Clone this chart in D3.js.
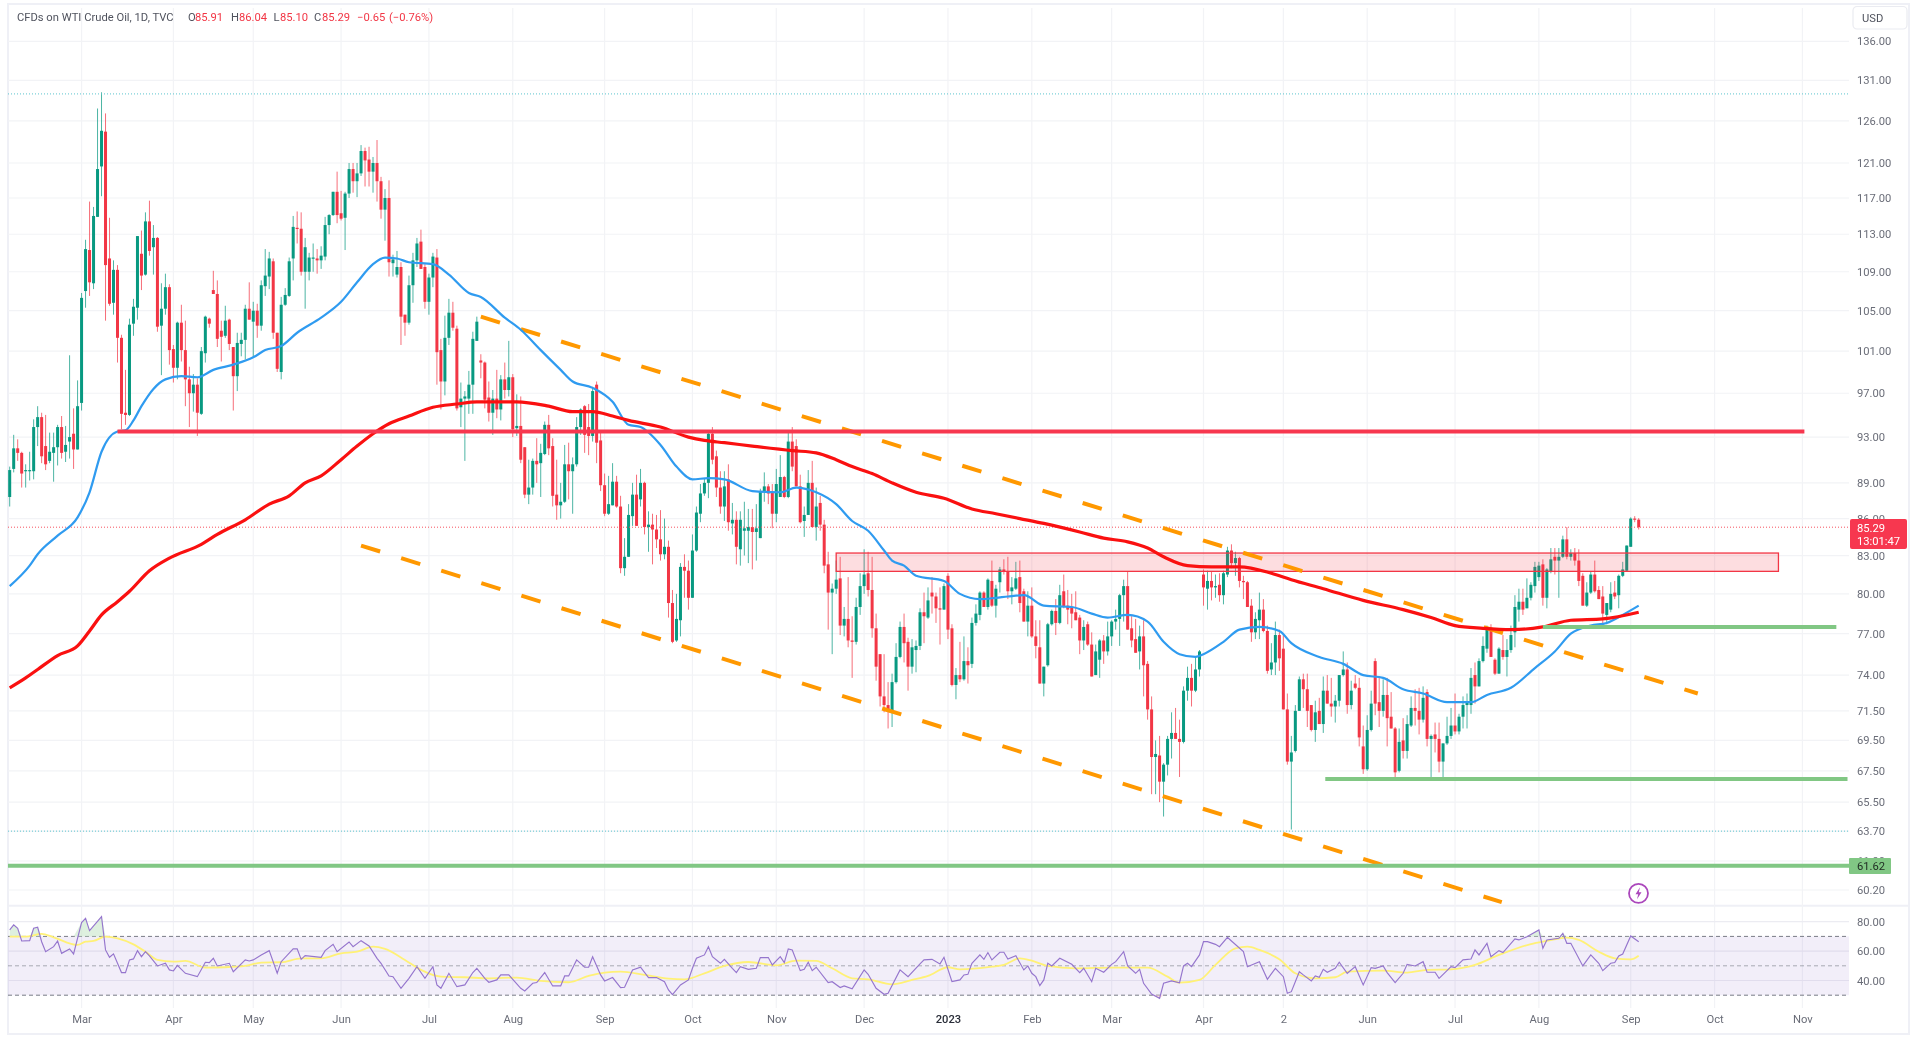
<!DOCTYPE html>
<html><head><meta charset="utf-8">
<script src="https://cdn.jsdelivr.net/npm/d3@7"></script>
<style>html,body{margin:0;background:#fff}svg{display:block;filter:blur(.3px)}text{font-family:Roboto,sans-serif}</style>
</head><body><svg id="c" width="1920" height="1040"></svg>
<script>
// daily bars: [open, high, low, close]
const candles = [
[87.8,90.4,87.0,90.1],[90.2,93.2,89.9,92.0],[92.0,92.8,90.9,91.6],[91.6,91.7,88.6,89.8],[90.0,90.6,88.6,90.1],[90.0,91.7,89.2,90.1],[90.0,94.6,89.3,93.9],[93.9,95.8,92.2,94.8],[94.8,95.2,90.7,91.3],[92.2,95.0,90.1,90.6],
[90.9,93.4,90.7,91.7],[91.6,93.4,89.1,92.1],[92.1,94.1,90.5,93.9],[93.9,94.9,91.1,91.6],[91.7,94.0,90.8,92.3],[92.6,100.6,91.1,93.0],[93.3,95.6,90.2,91.9],[91.9,98.2,91.9,95.8],[96.1,106.8,95.4,106.3],[107.0,112.4,105.3,111.4],
[111.3,116.6,106.5,107.9],[107.8,116.0,107.2,115.0],[114.9,127.5,114.9,120.3],[120.6,129.5,117.2,124.8],[124.7,126.9,104.0,109.7],[110.4,114.8,105.5,105.7],[105.8,110.2,104.6,109.2],[109.2,109.7,99.9,102.3],[102.3,102.6,93.7,95.1],[95.2,99.2,94.1,95.0],
[95.0,104.2,94.9,103.6],[103.7,106.2,102.5,105.4],[105.3,112.8,104.1,112.8],[110.9,113.4,107.1,108.6],[108.7,115.4,108.6,114.4],[114.4,116.7,110.7,111.2],[111.6,114.0,108.7,112.6],[112.6,112.7,102.9,103.4],[103.5,107.8,98.7,105.2],[105.2,108.8,104.6,107.4],
[107.4,107.7,99.7,101.1],[101.2,101.6,98.0,99.4],[99.4,103.9,98.3,103.8],[103.8,105.6,100.0,101.1],[101.1,104.0,95.8,98.3],[98.3,99.5,93.9,97.0],[97.0,98.8,95.3,97.8],[97.8,98.4,93.1,95.2],[95.1,101.4,95.0,101.0],[100.8,104.5,99.9,104.4],
[104.2,104.3,103.3,103.7],[107.1,109.1,106.7,106.7],[106.7,108.1,101.4,102.2],[103.0,104.0,100.0,102.4],[102.5,105.5,102.3,104.0],[104.1,104.2,101.1,101.7],[101.4,101.4,95.4,98.6],[98.6,102.8,97.2,101.8],[101.7,102.8,100.5,102.1],[102.1,105.6,100.2,105.2],
[105.2,107.9,104.1,104.1],[103.9,105.9,100.4,105.0],[105.0,105.7,102.3,103.5],[103.5,108.1,103.0,107.6],[107.5,111.4,106.5,108.6],[108.5,111.1,107.2,110.4],[110.1,110.4,102.2,102.8],[102.8,102.8,99.0,99.3],[99.0,106.4,98.3,105.6],[105.6,107.3,105.5,106.6],
[106.5,110.5,106.4,110.1],[110.4,115.0,108.1,113.8],[113.7,115.5,112.0,113.6],[113.6,115.4,108.6,109.0],[109.0,112.6,105.2,111.6],[109.0,111.0,108.1,110.5],[110.4,112.0,109.0,110.5],[110.4,111.4,108.8,110.2],[110.2,111.7,109.3,110.7],[110.6,114.9,110.2,114.0],
[114.0,115.2,113.0,115.1],[115.1,117.7,115.0,117.7],[117.7,120.0,114.2,115.1],[115.3,117.8,114.5,114.7],[114.8,117.7,111.3,117.5],[117.5,121.0,117.0,120.3],[120.3,121.0,117.6,118.9],[118.9,121.0,117.1,119.8],[119.8,123.1,119.5,122.4],[122.4,122.8,118.3,121.3],
[121.4,122.9,118.3,120.0],[120.0,121.7,117.6,121.0],[121.0,123.7,116.6,118.9],[118.9,119.4,114.7,115.7],[115.7,118.0,112.3,117.0],[117.0,119.0,108.5,110.0],[109.9,110.8,108.5,110.3],[108.7,111.2,108.4,109.5],[109.5,110.0,101.6,104.4],[104.6,104.6,102.5,103.8],
[103.8,108.6,103.6,107.6],[107.6,111.0,105.8,110.2],[110.2,112.6,109.5,112.0],[112.2,113.5,109.3,109.3],[109.5,109.8,105.2,105.9],[105.9,108.8,104.6,108.4],[108.4,111.0,107.4,110.6],[110.5,111.4,97.8,100.9],[101.1,102.2,95.5,98.1],[98.1,104.5,96.8,102.3],
[102.3,106.2,101.6,104.8],[104.8,105.9,103.0,103.3],[103.2,103.5,95.4,95.6],[95.7,98.0,93.9,96.5],[96.5,97.2,90.9,96.7],[96.5,99.1,95.1,97.8],[97.8,102.9,95.1,102.2],[102.0,104.4,102.0,103.9],[100.1,100.7,98.4,99.9],[99.9,100.0,95.6,96.4],
[96.6,98.1,94.4,95.2],[95.2,97.3,93.2,96.5],[96.5,99.2,94.7,95.5],[95.5,98.7,94.5,98.3],[98.3,99.9,96.5,97.3],[97.3,102.0,96.7,98.5],[98.5,98.8,93.0,93.7],[93.8,96.9,93.1,94.0],[94.0,96.7,90.7,91.0],[92.1,92.1,87.7,88.0],
[88.0,91.0,87.2,88.6],[88.6,91.1,88.0,90.9],[90.9,92.9,89.0,90.6],[90.7,92.4,87.8,91.6],[91.5,94.4,91.4,94.1],[94.1,95.0,91.4,92.0],[92.2,92.9,87.0,87.9],[88.0,91.0,85.9,87.1],[87.1,89.0,86.0,87.4],[87.4,92.3,87.3,90.6],
[90.6,92.5,87.6,90.0],[90.0,91.2,86.4,90.6],[90.6,94.8,90.4,93.9],[93.9,95.6,93.2,95.5],[95.8,95.9,91.6,93.2],[93.9,96.0,91.4,93.1],[93.1,97.6,92.6,97.2],[97.8,98.1,90.7,92.5],[92.7,93.5,88.3,88.8],[88.8,89.8,86.2,86.4],
[86.4,89.6,86.3,87.2],[87.1,90.7,87.1,89.1],[89.1,89.6,86.9,87.0],[87.0,87.9,81.6,82.0],[82.0,84.4,81.4,82.9],[82.9,87.2,82.9,86.3],[86.2,89.0,85.4,88.0],[88.0,89.7,85.4,85.4],[87.6,90.2,87.0,89.0],[89.0,89.1,84.7,85.3],
[85.3,86.6,83.3,85.5],[85.5,86.4,82.3,85.1],[85.1,86.3,83.6,84.3],[84.3,86.7,82.6,83.1],[83.1,86.0,82.7,83.7],[83.7,84.2,78.2,79.3],[79.3,80.3,76.3,76.4],[76.5,80.0,76.4,78.1],[78.0,82.4,76.8,82.1],[82.1,83.1,79.7,81.8],
[81.8,82.6,78.8,79.7],[79.7,84.7,79.7,83.4],[83.4,87.0,83.3,86.5],[86.4,88.9,85.7,88.1],[88.1,89.4,87.9,89.0],[89.0,93.4,87.7,93.3],[93.3,93.9,90.6,91.0],[91.3,91.8,87.8,88.6],[88.6,90.0,86.4,87.0],[87.0,90.0,85.8,88.7],
[89.3,90.6,85.0,85.7],[85.6,87.3,84.7,85.9],[85.9,86.6,82.3,83.7],[83.5,86.6,82.2,85.9],[85.0,87.4,83.0,85.2],[85.0,86.8,82.4,85.3],[85.3,86.8,81.9,84.9],[84.9,87.2,82.6,85.2],[84.4,88.5,84.4,88.3],[88.3,89.9,87.4,88.7],
[88.7,88.9,87.2,88.1],[88.2,88.9,85.2,86.4],[86.4,90.2,85.7,88.9],[87.8,91.4,87.8,89.5],[89.5,89.6,87.7,87.8],[87.8,93.4,87.7,92.6],[92.6,93.9,90.0,90.4],[92.2,92.8,88.7,88.7],[88.7,89.7,85.6,85.7],[85.8,87.0,84.5,86.3],
[86.3,90.1,86.3,89.0],[89.0,90.9,85.3,85.3],[85.3,88.6,84.2,87.0],[87.3,87.9,85.0,85.5],[85.5,85.9,81.6,82.2],[82.3,83.3,77.3,80.1],[80.1,80.8,75.5,80.4],[80.4,82.6,80.0,81.1],[81.2,82.9,76.9,77.6],[77.6,79.0,76.8,78.1],
[78.1,81.3,76.0,76.5],[76.5,78.3,73.8,76.4],[76.4,79.7,76.2,79.0],[79.0,81.6,78.4,80.6],[80.6,83.5,80.0,81.5],[81.6,83.3,79.8,80.3],[80.3,82.9,76.7,77.4],[77.4,78.5,73.6,74.6],[75.5,75.5,71.8,72.5],[72.5,75.5,71.4,71.9],
[71.9,73.5,70.3,71.5],[71.4,74.1,70.4,73.5],[73.5,76.3,73.4,75.3],[75.3,77.9,75.2,77.5],[77.5,78.5,74.9,76.3],[76.4,76.7,72.9,74.6],[74.6,76.6,74.1,76.0],[75.8,76.5,74.2,76.1],[76.1,78.9,75.8,78.6],[78.6,80.1,76.3,78.3],
[78.2,80.5,78.1,79.5],[80.1,81.3,78.5,79.8],[79.8,80.1,77.8,78.9],[78.9,80.5,76.2,78.8],[78.8,80.8,78.8,80.6],[81.4,81.6,76.6,77.3],[77.4,77.7,73.2,73.3],[73.3,74.5,72.3,74.0],[74.0,76.4,73.5,73.7],[73.7,76.8,73.6,75.0],
[75.0,76.0,73.4,74.7],[74.8,78.2,74.5,77.8],[77.8,79.2,77.6,78.5],[78.4,80.2,78.0,80.1],[80.1,80.2,79.0,79.0],[79.0,81.2,78.8,81.1],[81.0,82.6,79.0,79.1],[79.1,80.7,78.2,80.4],[80.9,82.1,80.1,81.9],[81.9,82.7,81.5,81.7],
[81.7,82.9,79.6,80.2],[80.2,81.3,79.2,80.5],[80.4,82.5,80.3,81.2],[81.3,82.6,78.6,79.3],[80.2,80.4,77.9,77.9],[77.9,80.2,76.8,79.1],[79.1,80.5,76.7,76.8],[76.8,78.0,75.2,76.1],[76.0,78.0,73.4,73.4],[73.4,74.6,72.5,74.6],
[74.7,77.8,74.6,77.7],[77.7,78.8,77.6,78.7],[78.7,79.6,76.9,77.8],[77.8,80.7,77.7,79.9],[80.2,81.5,78.9,79.0],[79.1,80.3,77.7,78.8],[79.0,80.0,77.4,78.5],[78.6,80.2,78.0,78.0],[78.2,78.4,75.5,76.5],[76.5,78.0,75.8,77.5],
[77.7,77.9,76.1,76.2],[76.2,77.1,73.9,73.9],[74.0,76.2,74.0,75.7],[75.1,76.6,73.8,76.5],[76.5,76.9,74.8,75.7],[75.7,77.9,75.4,76.8],[76.8,78.0,76.1,77.9],[77.9,78.8,77.3,78.1],[78.1,80.0,76.1,79.9],[79.9,81.1,77.9,80.6],
[80.6,81.7,77.3,77.3],[77.4,78.3,76.0,76.5],[76.6,78.1,75.6,75.6],[75.7,77.6,74.4,76.8],[76.8,78.0,72.5,74.7],[74.8,75.0,70.9,71.6],[71.6,72.5,66.0,68.4],[68.4,69.5,66.0,68.6],[68.5,69.8,65.5,66.8],[66.8,68.0,64.6,67.9],
[67.9,69.8,67.2,69.6],[69.6,71.4,68.3,70.0],[70.0,71.7,69.6,69.6],[69.6,70.9,67.1,69.4],[69.4,73.2,69.3,72.9],[72.9,74.6,72.2,73.8],[73.8,74.8,71.8,72.9],[72.9,75.3,72.8,74.4],[74.4,75.8,73.9,75.7],[81.5,81.9,79.1,80.5],
[80.4,81.8,78.8,81.0],[81.0,81.7,79.5,80.5],[80.5,81.5,79.7,80.6],[80.7,81.6,79.4,79.9],[79.9,81.8,79.2,81.6],[81.5,83.7,81.3,83.4],[83.4,83.9,82.0,82.4],[82.4,83.3,81.4,82.8],[82.8,82.9,80.5,81.0],[81.0,81.4,79.6,80.9],
[80.9,81.0,79.0,79.0],[79.1,79.6,76.4,77.1],[77.1,78.6,76.6,78.1],[78.0,80.1,76.6,78.8],[78.8,79.6,77.1,77.2],[77.2,77.6,74.1,74.3],[74.4,76.3,74.0,74.9],[74.9,77.9,74.0,76.9],[76.9,77.3,74.3,75.2],[75.9,76.9,71.6,71.6],
[71.6,72.7,67.9,68.1],[68.1,69.8,63.8,68.7],[68.8,71.9,68.7,71.5],[71.5,73.9,71.5,73.7],[73.7,74.1,71.7,73.0],[73.0,74.1,70.4,71.5],[71.9,71.9,70.1,70.2],[70.2,72.2,69.4,71.4],[71.5,72.4,70.6,70.6],[70.6,73.9,70.0,72.9],
[72.9,74.0,72.0,72.0],[72.0,73.8,71.1,71.8],[71.8,72.6,70.7,72.2],[72.2,74.0,71.8,74.0],[74.0,75.7,73.9,74.4],[74.4,74.9,71.3,71.9],[71.9,73.6,71.6,72.9],[73.4,74.0,73.0,73.1],[73.1,73.8,69.1,69.7],[69.1,70.5,67.3,67.6],
[67.6,71.2,67.5,70.2],[70.2,72.9,70.1,72.0],[75.0,75.2,71.2,72.0],[72.1,73.8,70.4,71.5],[71.5,73.7,71.1,72.6],[72.6,73.8,69.1,71.0],[71.1,72.8,70.3,70.3],[70.3,70.4,66.9,67.4],[67.5,70.3,67.4,69.4],[69.5,71.0,68.3,68.8],
[68.8,71.2,68.3,70.6],[70.5,72.5,70.4,71.7],[71.7,73.0,70.5,71.5],[71.5,73.1,69.9,70.9],[70.9,73.2,70.7,72.4],[72.8,73.0,69.1,69.6],[69.6,69.9,67.1,69.8],[69.9,70.7,68.7,69.6],[69.6,70.7,67.4,68.1],[68.1,69.3,67.0,69.3],
[69.3,71.1,69.2,69.8],[69.8,71.7,69.6,70.5],[70.5,72.7,69.9,70.1],[70.1,71.3,69.9,71.1],[71.1,72.5,70.3,71.9],[71.9,72.7,70.3,72.1],[71.9,74.5,71.3,73.8],[74.0,74.9,72.0,73.2],[73.2,75.2,73.2,75.0],[75.0,76.8,74.9,76.1],
[75.9,77.6,75.6,77.4],[77.3,77.7,75.3,75.3],[75.1,75.2,74.0,74.1],[74.1,76.0,74.1,75.9],[75.8,76.9,75.1,75.3],[75.3,76.6,73.9,75.8],[75.8,77.6,75.6,76.9],[77.1,79.9,76.0,79.0],[78.8,80.4,77.9,79.4],[79.4,80.4,78.4,78.8],
[78.9,81.2,78.9,79.7],[79.7,80.9,79.5,80.7],[80.6,82.5,80.1,82.1],[81.3,82.5,81.0,82.2],[82.3,82.7,79.1,79.7],[79.7,82.0,78.9,81.9],[81.7,83.6,81.6,82.7],[82.9,83.6,81.5,82.6],[82.6,83.6,79.7,82.9],[82.9,84.6,82.8,84.3],
[84.3,85.3,82.7,82.9],[82.9,83.5,82.6,83.2],[83.2,83.6,82.2,82.6],[82.6,83.5,80.6,81.0],[81.4,81.6,79.1,79.1],[79.1,80.9,79.0,80.1],[80.1,81.7,80.0,81.5],[81.5,82.6,80.1,80.2],[80.3,80.6,79.6,79.6],[79.8,80.6,77.7,78.5],
[78.4,79.3,77.7,79.3],[78.8,80.9,78.6,80.0],[80.1,81.0,79.6,79.8],[79.9,81.5,78.9,81.4],[81.4,82.5,81.3,81.9],[81.8,83.8,81.7,83.8],[83.7,86.1,83.7,86.0],[86.0,86.2,85.7,85.9],[85.91,86.04,85.10,85.29]
];
// moving averages read at bar indexes
const ma50Index = [0,5,7,12,17,20,23,27,29,31,33,36,39,43,47,51,56,61,64,68,72,78,83,87,91,94,97,100,106,110,115,118,124,128,133,138,141,146,151,155,158,163,167,171,175,179,186,193,197,202,207,211,215,219,221,224,227,234,238,243,247,250,254,259,266,271,275,280,285,289,293,297,299,304,308,313,318,321,328,334,339,344,349,354,360,366,370,376,382,387,391,396,400,404,408];
const ma50Value = [80.6,82.2,83.1,84.6,86.1,88.2,91.7,93.5,93.6,94.5,95.8,97.4,98.3,98.6,98.5,99.2,99.7,100.4,101.1,101.5,102.8,104.3,105.9,107.9,109.8,110.5,110.4,110.0,109.8,108.7,106.8,106.4,104.3,103.1,101.1,99.2,98.1,97.5,96.2,94.1,93.9,92.3,90.4,89.3,89.4,89.3,88.3,88.2,88.6,88.2,87.2,85.8,85.0,83.4,82.6,82.2,81.4,81.0,80.0,79.6,79.7,79.8,79.9,79.1,79.0,78.5,78.2,78.4,77.9,76.4,75.5,75.3,75.5,76.4,77.3,77.5,77.2,76.3,75.3,74.8,74.0,73.8,73.0,72.7,72.1,72.1,72.6,73.1,74.5,75.7,77.0,77.6,77.8,78.4,79.1];
const ma200Index = [0,4,7,12,17,20,23,27,30,35,40,48,52,59,65,70,74,78,83,87,91,95,100,106,112,117,127,135,141,146,151,155,163,170,174,179,186,196,202,207,211,216,221,227,234,241,247,253,259,268,274,280,285,289,295,301,308,316,321,329,339,349,356,362,369,376,384,391,399,408];
const ma200Value = [73.1,73.8,74.4,75.4,76.1,77.2,78.4,79.4,80.2,81.8,82.8,83.9,84.7,85.9,87.2,87.9,89.0,89.6,91.0,92.2,93.3,94.2,94.9,95.7,96.0,96.2,96.2,95.8,95.3,95.3,94.9,94.5,93.9,93.0,92.7,92.5,92.2,91.8,91.6,91.0,90.4,89.8,89.0,88.2,87.7,86.8,86.4,86.0,85.6,84.9,84.4,84.1,83.6,82.9,82.2,82.1,82.1,81.6,81.1,80.4,79.5,78.8,78.2,77.6,77.4,77.3,77.5,78.0,78.1,78.6];
// RSI and its moving average
const rsiIndex = [0,1,2,3,5,6,7,8,9,11,12,13,15,16,18,19,20,23,24,25,26,28,29,30,31,32,33,34,35,37,39,40,41,42,44,47,49,50,51,52,55,56,59,60,61,63,65,67,68,71,72,73,74,78,79,81,82,85,86,88,90,92,93,95,96,98,100,102,104,106,107,108,110,112,114,116,117,119,120,122,123,125,126,128,129,131,132,134,136,138,139,140,142,144,145,146,148,149,151,153,154,156,158,160,162,164,165,166,168,170,171,172,174,175,176,178,179,181,182,183,185,187,188,190,191,193,194,195,196,198,199,200,201,202,205,206,208,209,211,214,215,217,219,220,223,225,228,229,231,233,234,236,238,239,240,241,243,244,245,246,248,249,250,252,254,255,256,257,258,259,260,261,263,266,268,269,271,272,274,276,277,279,280,282,283,284,286,288,289,291,293,294,295,296,298,299,300,302,303,305,306,309,310,313,315,317,319,320,321,323,324,326,327,328,329,330,332,333,335,337,339,341,342,344,345,347,349,350,352,354,355,357,358,361,362,364,366,367,368,370,371,373,374,377,378,380,383,384,385,388,389,390,391,394,396,398,399,401,402,403,404,406,408];
const rsiValue = [74.4,77.8,75.5,66.9,67.1,75.5,76.2,66.4,59.6,63.0,66.9,58.5,61.5,58.1,79.4,82.3,73.9,83.5,60.8,55.8,58.1,45.4,45.4,54.0,54.7,60.3,56.2,59.6,56.7,49.9,51.7,47.2,46.5,50.3,44.9,42.6,52.4,52.2,55.1,49.9,51.7,46.0,54.0,53.3,54.0,57.4,60.3,44.9,52.8,61.5,61.5,54.4,56.9,55.8,60.3,64.6,59.6,66.2,63.0,67.1,63.5,55.1,51.7,43.1,42.6,34.7,41.5,49.4,41.5,49.4,37.0,34.7,44.9,35.8,37.0,45.4,48.3,41.5,38.8,40.4,43.8,43.8,40.8,34.7,32.9,38.1,38.6,45.4,36.3,36.3,43.1,43.1,54.0,49.0,49.0,56.2,43.8,39.7,42.0,35.2,35.4,47.2,49.0,42.0,42.0,39.2,33.6,30.4,37.0,40.4,48.3,55.1,57.4,63.0,56.2,51.7,54.4,48.3,45.4,49.4,47.6,48.3,55.6,55.6,50.6,56.2,52.2,61.5,60.8,46.7,47.6,52.4,46.7,49.0,38.6,39.2,35.2,36.3,34.3,47.2,44.2,34.7,30.6,31.3,47.2,42.6,51.3,54.0,54.4,51.3,55.8,39.2,40.4,43.8,44.2,51.7,57.4,54.4,59.0,54.0,59.2,59.2,54.6,56.9,47.2,49.9,44.9,42.6,36.5,40.4,51.7,49.9,55.1,51.0,45.4,48.3,39.2,48.3,45.6,51.0,52.8,59.6,49.9,44.9,47.6,38.1,30.8,27.9,38.1,39.7,38.5,49.9,51.7,49.4,57.4,66.4,66.4,64.6,63.0,69.4,66.9,59.6,49.4,52.8,40.8,48.3,42.6,31.3,32.4,46.0,43.8,39.7,43.1,42.2,47.6,45.6,48.3,52.4,44.9,49.4,37.0,48.8,48.3,49.9,45.4,38.5,44.9,51.0,49.9,52.8,45.6,45.6,41.5,49.4,48.8,54.0,54.6,60.8,57.4,65.3,56.2,60.3,59.0,68.3,67.6,69.8,74.4,61.9,67.6,68.7,72.1,65.3,65.3,49.9,57.4,51.7,46.7,51.7,52.2,56.7,58.0,70.3,66.4];
const rsiMaIndex = [0,4,8,11,17,19,21,24,27,31,34,37,41,44,49,54,59,63,68,73,78,83,87,91,94,99,103,108,114,120,127,133,140,145,149,153,159,165,169,174,179,185,192,197,202,206,211,215,221,226,230,235,238,246,249,253,256,260,267,276,285,290,293,298,302,307,310,313,318,322,327,332,335,344,350,355,361,367,373,381,385,390,393,398,402,406,408];
const rsiMaValue = [69.8,69.8,71.7,69.4,64.2,66.4,66.9,69.8,68.7,64.6,59.6,54.0,52.8,53.3,48.8,49.0,49.9,52.2,52.4,55.1,55.1,58.5,59.6,63.0,61.5,54.0,47.2,42.6,42.2,41.5,42.0,39.7,38.8,43.1,45.4,46.0,43.8,41.3,40.8,44.9,49.9,52.6,50.3,53.5,53.3,48.3,41.5,40.8,37.4,40.4,43.1,49.0,47.6,49.4,50.6,55.1,53.5,49.9,48.3,48.8,48.8,42.6,38.5,40.4,50.6,61.9,63.0,60.8,54.4,44.9,41.5,42.2,46.0,46.7,45.4,47.2,47.6,50.6,57.4,64.8,66.9,69.2,67.6,59.6,55.1,54.4,56.9];
// axes
const priceTicks = [136,131,126,121,117,113,109,105,101,97,93,89,86,83,80,77,74,71.5,69.5,67.5,65.5,63.7,61.9,60.2];
const rsiTicks = [80,60,40];
const rsiBands = [70,50,30];
const monthIndex = [18,41,61,83,105,126,149,171,192,214,235,256,276,299,319,340,362,383,406,427,449];
const monthLabels = ["Mar","Apr","May","Jun","Jul","Aug","Sep","Oct","Nov","Dec","2023","Feb","Mar","Apr","2","Jun","Jul","Aug","Sep","Oct","Nov"];
// drawings
const redLevel = {price:93.5, from:27, to:449.5};
const greenLevels = [{price:77.5,from:384,to:457.5},{price:66.97,from:329.5,to:460.3},{price:61.62,from:-1,to:461}];
const upperChannel = [[118,104.4],[422.8,72.7]];
const lowerChannel = [[88,83.8],[373.7,59.5]];
const zoneBox = {from:207,to:443,top:83.2,bottom:81.75};
const highMark = 129.3, lowMark = 63.7, lastPrice = 85.29;

const X0=8, X1=1849, PT=8, PB=905, RT=908, RB=1008;
const svg = d3.select("#c");
const x = d3.scaleLinear().domain([0,408]).range([9.7,1638.7]);
const y = d3.scaleLog().domain([60.2,136]).range([890,41.3]);
const ry = d3.scaleLinear().domain([30,80]).range([995.2,921.7]);
const GREEN="#089981", RED="#f23645", GRID="#f2f3f6", TXT="#6a6d78";

svg.append("rect").attr("width",1920).attr("height",1040).attr("fill","#fff");
const defs=svg.append("defs");
defs.append("clipPath").attr("id","pm").append("rect").attr("x",X0).attr("y",PT).attr("width",X1-X0).attr("height",PB-PT);
defs.append("clipPath").attr("id","pr").append("rect").attr("x",X0).attr("y",RT).attr("width",X1-X0).attr("height",RB-RT);

// frame
const frame=svg.append("g").attr("fill","none").attr("stroke","#eff0f6").attr("stroke-width",2);
frame.append("rect").attr("x",8).attr("y",4).attr("width",1901).attr("height",1030);
frame.append("line").attr("x1",8).attr("x2",1909).attr("y1",905.7).attr("y2",905.7);

// vertical and horizontal grid
const gridG=svg.append("g").attr("stroke",GRID).attr("stroke-width",1.2);
gridG.selectAll(".v").data(monthIndex).join("line").attr("x1",d=>x(d)).attr("x2",d=>x(d)).attr("y1",PT).attr("y2",RB);
gridG.selectAll(".h").data(priceTicks).join("line").attr("x1",X0).attr("x2",X1).attr("y1",d=>y(d)).attr("y2",d=>y(d));
gridG.selectAll(".r").data(rsiTicks).join("line").attr("x1",X0).attr("x2",X1).attr("y1",d=>ry(d)).attr("y2",d=>ry(d)).attr("stroke","#ececf2");

// RSI pane
svg.append("rect").attr("x",X0).attr("width",X1-X0).attr("y",ry(70)).attr("height",ry(30)-ry(70)).attr("fill","#7e57c2").attr("fill-opacity",.1);
svg.append("g").selectAll("line").data(rsiBands).join("line").attr("x1",X0).attr("x2",X1)
  .attr("y1",d=>ry(d)).attr("y2",d=>ry(d)).attr("stroke","#787b86").attr("stroke-width",1).attr("stroke-dasharray","4 3")
  .attr("stroke-opacity",d=>d===50?.6:1);
const rsiPts = rsiIndex.map((d,i)=>[d,rsiValue[i]]);
const rG=svg.append("g").attr("clip-path","url(#pr)");
rG.append("path").attr("fill","#c8e6c9").attr("fill-opacity",.6).attr("d",d3.area().x(d=>x(d[0])).y0(ry(70)).y1(d=>ry(Math.max(d[1],70)))(rsiPts));
rG.append("path").attr("fill","#ffcdd2").attr("fill-opacity",.6).attr("d",d3.area().x(d=>x(d[0])).y0(ry(30)).y1(d=>ry(Math.min(d[1],30)))(rsiPts));
rG.append("path").attr("fill","none").attr("stroke","#fff176").attr("stroke-width",1.8)
  .attr("d",d3.line().x((d,i)=>x(d)).y((d,i)=>ry(rsiMaValue[i])).curve(d3.curveMonotoneX)(rsiMaIndex));
rG.append("path").attr("fill","none").attr("stroke","#9575cd").attr("stroke-width",1.15)
  .attr("d",d3.line().x(d=>x(d[0])).y(d=>ry(d[1]))(rsiPts));

// candles
const main=svg.append("g").attr("clip-path","url(#pm)");
const bars=main.append("g").selectAll("g").data(candles).join("g");
const col=d=>d[3]>=d[0]?GREEN:RED;
bars.append("line").attr("x1",(d,i)=>x(i)).attr("x2",(d,i)=>x(i)).attr("y1",d=>y(d[1])).attr("y2",d=>y(d[2]))
  .attr("stroke",col).attr("stroke-width",1).attr("stroke-opacity",.72);
bars.append("rect").attr("x",(d,i)=>x(i)-1.5).attr("width",3)
  .attr("y",d=>y(Math.max(d[0],d[3]))).attr("height",d=>Math.max(1.2,Math.abs(y(d[0])-y(d[3])))).attr("fill",col);

// dotted price marks
const dots=[[highMark,"#5cc4cf"],[lowMark,"#5cc4cf"],[lastPrice,"#f7525f"]];
main.selectAll(".dot").data(dots).join("line").attr("x1",X0).attr("x2",X1).attr("y1",d=>y(d[0])).attr("y2",d=>y(d[0]))
  .attr("stroke",d=>d[1]).attr("stroke-width",1).attr("stroke-dasharray","1 2");

// zone
main.append("rect").attr("x",x(zoneBox.from)).attr("width",x(zoneBox.to)-x(zoneBox.from)).attr("y",y(zoneBox.top)).attr("height",y(zoneBox.bottom)-y(zoneBox.top))
  .attr("fill",RED).attr("fill-opacity",.17).attr("stroke",RED).attr("stroke-width",1.3);

// channel lines
[upperChannel,lowerChannel].forEach(c=>{
  main.append("line").attr("x1",x(c[0][0])).attr("y1",y(c[0][1])).attr("x2",x(c[1][0])).attr("y2",y(c[1][1]))
   .attr("stroke","#ff9800").attr("stroke-width",4).attr("stroke-dasharray","20 22");
});
// moving averages
main.append("path").attr("fill","none").attr("stroke","#2f9bf0").attr("stroke-width",2.2)
  .attr("d",d3.line().x(d=>x(d)).y((d,i)=>y(ma50Value[i])).curve(d3.curveMonotoneX)(ma50Index));
main.append("path").attr("fill","none").attr("stroke","#fa1010").attr("stroke-width",3.2)
  .attr("d",d3.line().x(d=>x(d)).y((d,i)=>y(ma200Value[i])).curve(d3.curveMonotoneX)(ma200Index));

// levels
main.append("line").attr("x1",x(redLevel.from)).attr("x2",x(redLevel.to)).attr("y1",y(redLevel.price)).attr("y2",y(redLevel.price))
  .attr("stroke","#f7374f").attr("stroke-width",4);
main.selectAll(".gl").data(greenLevels).join("line").attr("x1",d=>x(d.from)).attr("x2",d=>x(d.to)).attr("y1",d=>y(d.price)).attr("y2",d=>y(d.price))
  .attr("stroke","#81c784").attr("stroke-width",4);

// axes
const pa=svg.append("g").attr("transform","translate(1857,0)").call(d3.axisRight(y).tickValues(priceTicks).tickFormat(d3.format(".2f")).tickSize(0).tickPadding(0));
pa.select(".domain").remove();
pa.selectAll("text").attr("font-size",11.2).attr("fill",TXT).attr("font-family","Roboto");
const ra=svg.append("g").attr("transform","translate(1857,0)").call(d3.axisRight(ry).tickValues(rsiTicks).tickFormat(d3.format(".2f")).tickSize(0).tickPadding(0));
ra.select(".domain").remove();
ra.selectAll("text").attr("font-size",11.2).attr("fill",TXT).attr("font-family","Roboto");
const ta=svg.append("g").attr("transform","translate(0,1015)").call(d3.axisBottom(x).tickValues(monthIndex).tickFormat((d,i)=>monthLabels[i]).tickSize(0).tickPadding(0));
ta.select(".domain").remove();
ta.selectAll("text").attr("font-size",11.2).attr("fill",(d,i)=>monthLabels[i]==="2023"?"#2a2e39":TXT).attr("font-weight",(d,i)=>monthLabels[i]==="2023"?500:400).attr("font-family","Roboto");

// price tags
svg.append("rect").attr("x",1850).attr("y",519).attr("width",57).attr("height",30).attr("rx",2).attr("fill","#f7374f");
svg.append("text").attr("x",1857).attr("y",531.5).attr("fill","#fff").attr("font-size",11.2).text(d3.format(".2f")(lastPrice));
svg.append("text").attr("x",1857).attr("y",545).attr("fill","#fff").attr("font-size",11.2).text("13:01:47");
svg.append("rect").attr("x",1849).attr("y",858).attr("width",42).attr("height",16).attr("rx",1).attr("fill","#81c784");
svg.append("text").attr("x",1857).attr("y",870).attr("fill","#1f2a22").attr("font-size",11.2).text("61.62");
svg.append("rect").attr("x",1853).attr("y",6.5).attr("width",54).attr("height",22.5).attr("rx",4).attr("fill","#fff").attr("stroke","#eaebf1").attr("stroke-width",1.2);
svg.append("text").attr("x",1862).attr("y",22).attr("fill","#50535e").attr("font-size",11.2).text("USD");

// title row
const titleParts=[[17,"CFDs on WTI Crude Oil, 1D, TVC","#50535e"],[188,"O","#50535e"],[195,"85.91",RED],[231,"H","#50535e"],[239,"86.04",RED],[273.5,"L","#50535e"],[280,"85.10",RED],[314,"C","#50535e"],[322,"85.29",RED],[357,"\u22120.65",RED],[389,"(\u22120.76%)",RED]];
svg.append("g").selectAll("text").data(titleParts).join("text").attr("x",d=>d[0]).attr("y",21).attr("font-size",11.2).attr("fill",d=>d[2]).text(d=>d[1]);

// alert bolt
const bolt=svg.append("g").attr("transform","translate(1638.5,893.3)");
bolt.append("circle").attr("r",9.5).attr("fill","#fff").attr("stroke","#ab47bc").attr("stroke-width",1.8);
bolt.append("path").attr("d","M1.5,-6 L-3,1 L-0.3,1 L-1.5,6 L3,-1 L0.3,-1 Z").attr("fill","#ab47bc");
</script></body></html>
